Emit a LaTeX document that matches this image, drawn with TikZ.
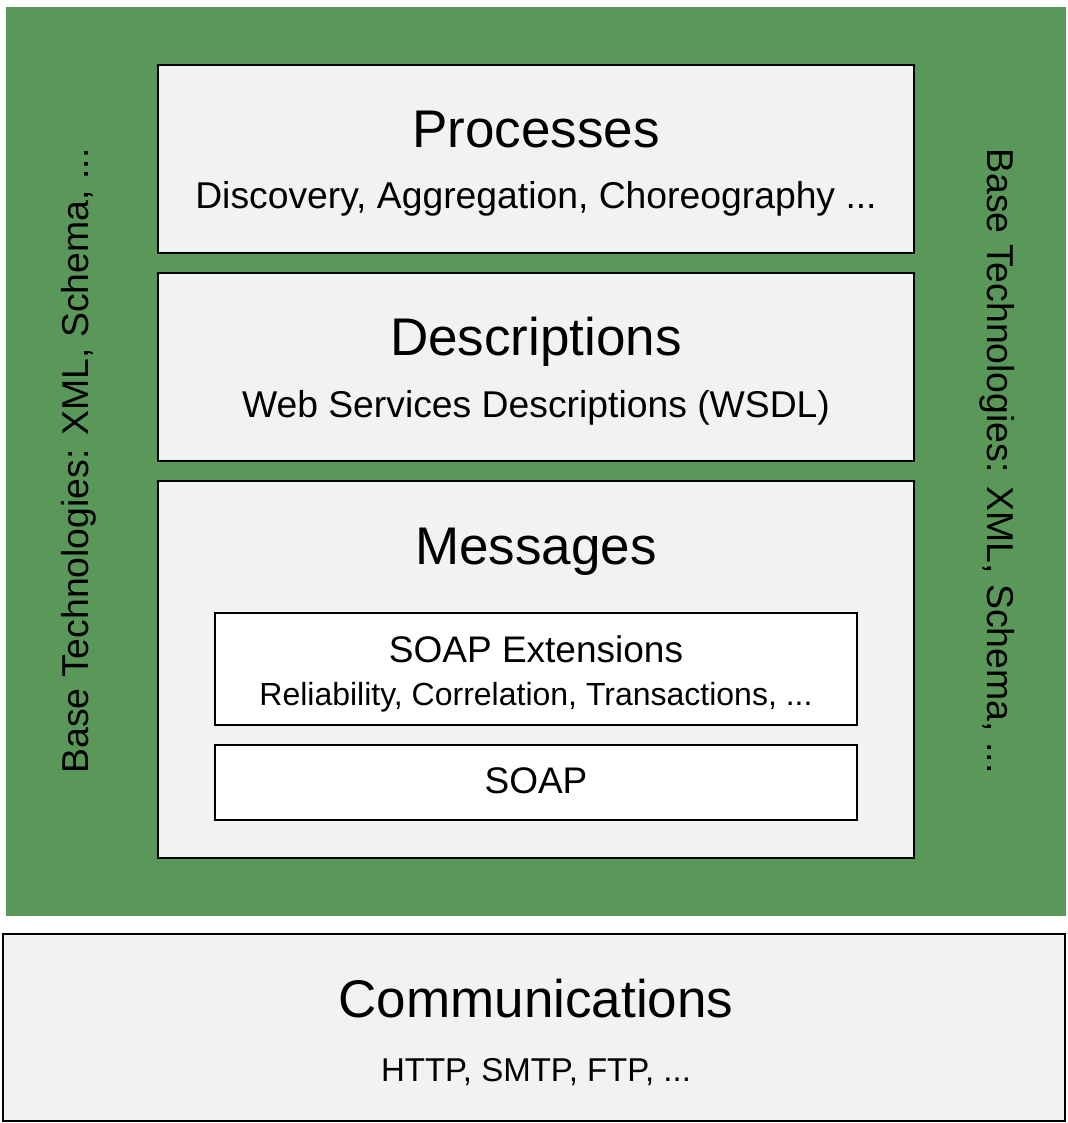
\documentclass[tikz,border=0pt]{standalone}
\usepackage{fontspec}
\setmainfont{Liberation Sans}
\definecolor{bggreen}{RGB}{90,152,90}
\definecolor{boxgray}{RGB}{242,242,242}
\begin{document}
\begin{tikzpicture}[x=1bp,y=-1bp,
  layerbox/.style={draw=black, line width=2bp, fill=boxgray, inner sep=0, outer sep=0},
  innerbox/.style={draw=black, line width=2bp, fill=white, inner sep=0, outer sep=0},
  bigtitle/.style={font=\fontsize{53bp}{60bp}\selectfont, anchor=base, inner sep=0},
  subtitle/.style={font=\fontsize{37.3bp}{42bp}\selectfont, anchor=base, inner sep=0},
  smalltitle/.style={font=\fontsize{37bp}{42bp}\selectfont, anchor=base, inner sep=0},
  smallsub/.style={font=\fontsize{32bp}{38bp}\selectfont, anchor=base, inner sep=0},
  commsub/.style={font=\fontsize{33bp}{38bp}\selectfont, anchor=base, inner sep=0},
  sidetext/.style={font=\fontsize{37.4bp}{44bp}\selectfont, inner sep=0}]
\useasboundingbox (0,0) rectangle (1068,1123);
\node[fill=bggreen, inner sep=0, minimum width=1060bp, minimum height=909bp] (base) at (536,461.5) {};
\node[layerbox, minimum width=756bp, minimum height=188bp] (proc) at (536,159) {};
\node[layerbox, minimum width=756bp, minimum height=188bp] (desc) at (536,367) {};
\node[layerbox, minimum width=756bp, minimum height=377bp] (msg) at (536,669.5) {};
\node[innerbox, minimum width=642bp, minimum height=112bp] (ext) at (536,669) {};
\node[innerbox, minimum width=642bp, minimum height=75bp] (soap) at (536,782.5) {};
\node[layerbox, minimum width=1062bp, minimum height=187bp] (comm) at (534,1027.5) {};
\node[bigtitle] (proct) at (536,147) {Processes};
\node[subtitle] (procs) at (536,208) {Discovery, Aggregation, Choreography ...};
\node[bigtitle] (desct) at (536,355) {Descriptions};
\node[subtitle] (descs) at (536,417) {Web Services Descriptions (WSDL)};
\node[bigtitle] (msgt) at (536,564) {Messages};
\node[smalltitle] (extt) at (536,662) {SOAP Extensions};
\node[smallsub] (exts) at (536,705) {Reliability, Correlation, Transactions, ...};
\node[smalltitle] (soapt) at (536,793) {SOAP};
\node[bigtitle] (commt) at (536,1017) {Communications};
\node[commsub] (comms) at (536,1081) {HTTP, SMTP, FTP, ...};
\node[sidetext, rotate=90] (leftt) at (79,461) {Base Technologies: XML, Schema, ...};
\node[sidetext, rotate=-90] (rightt) at (997,461) {Base Technologies: XML, Schema, ...};
\end{tikzpicture}
\end{document}
